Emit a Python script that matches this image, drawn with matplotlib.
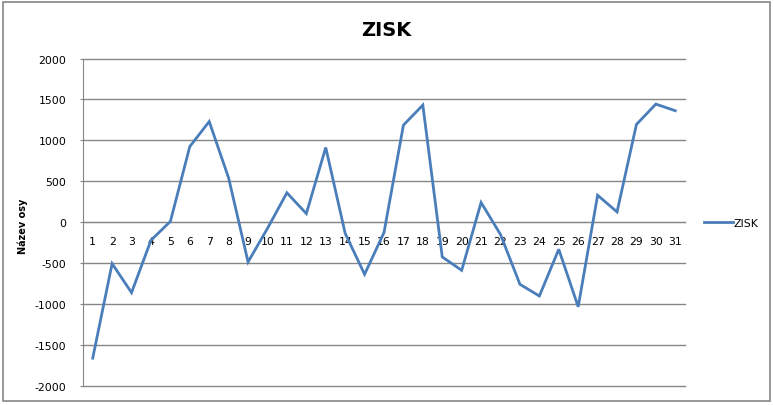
import matplotlib
matplotlib.use("Agg")
import matplotlib.pyplot as plt
from matplotlib.patches import Rectangle

# ZISK per day
days = list(range(1, 32))
zisk = [-1660, -505, -860, -220, 10, 925, 1230, 540, -485, -75,
        360, 106, 913, -135, -636, -125, 1186, 1431, -424, -587,
        241, -150, -758, -901, -330, -1033, 330, 126, 1195, 1443, 1362]
y_ticks = [-2000, -1500, -1000, -500, 0, 500, 1000, 1500, 2000]

W, H = 774, 406
fig = plt.figure(figsize=(W / 100, H / 100), dpi=100)
fig.patch.set_facecolor("white")

# chart border
fig.patches.append(Rectangle((3 / W, 4 / H), 767 / W, 399 / H,
                             transform=fig.transFigure, fill=False,
                             edgecolor="#868686", linewidth=1.2))

ax = fig.add_axes([83 / W, 19 / H, 602 / W, 327.5 / H])
grid_c = "#868686"

# horizontal gridlines (not clipped so the -2000 one shows)
for yv in y_ticks:
    ax.axhline(yv, color=grid_c, linewidth=1.0, zorder=0, clip_on=False)

ax.plot(days, zisk, color="#4A7EBB", linewidth=2.0,
        solid_joinstyle="miter", label="ZISK", zorder=3)

ax.set_xlim(0.5, 31.5)
ax.set_ylim(-2000, 2000)
ax.set_yticks(y_ticks)
ax.set_yticklabels([str(v) for v in y_ticks])

for s in ("top", "right"):
    ax.spines[s].set_visible(False)
ax.spines["left"].set_color(grid_c)
ax.spines["bottom"].set_position(("data", 0))
ax.spines["bottom"].set_color(grid_c)

ax.set_xticks(days)
ax.set_xticklabels([str(d) for d in days])
ax.tick_params(axis="x", length=0, pad=10, labelsize=7.8, colors="black")
ax.tick_params(axis="y", length=2, pad=10, labelsize=7.8, color=grid_c,
               labelcolor="black")

ax.set_ylabel("Název osy", fontsize=7, fontweight="bold")
ax.yaxis.set_label_coords(-55 / 602, 0.49)

fig.text(386 / W, 1 - 30 / H, "ZISK", ha="center", va="center",
         fontsize=14, fontweight="bold")

fig.legend(loc="center left", bbox_to_anchor=(700 / W, 1 - 224 / H),
           frameon=False, fontsize=7.8, handlelength=2.6,
           handletextpad=0.1, borderaxespad=0)

fig.savefig("out.png", dpi=100)
